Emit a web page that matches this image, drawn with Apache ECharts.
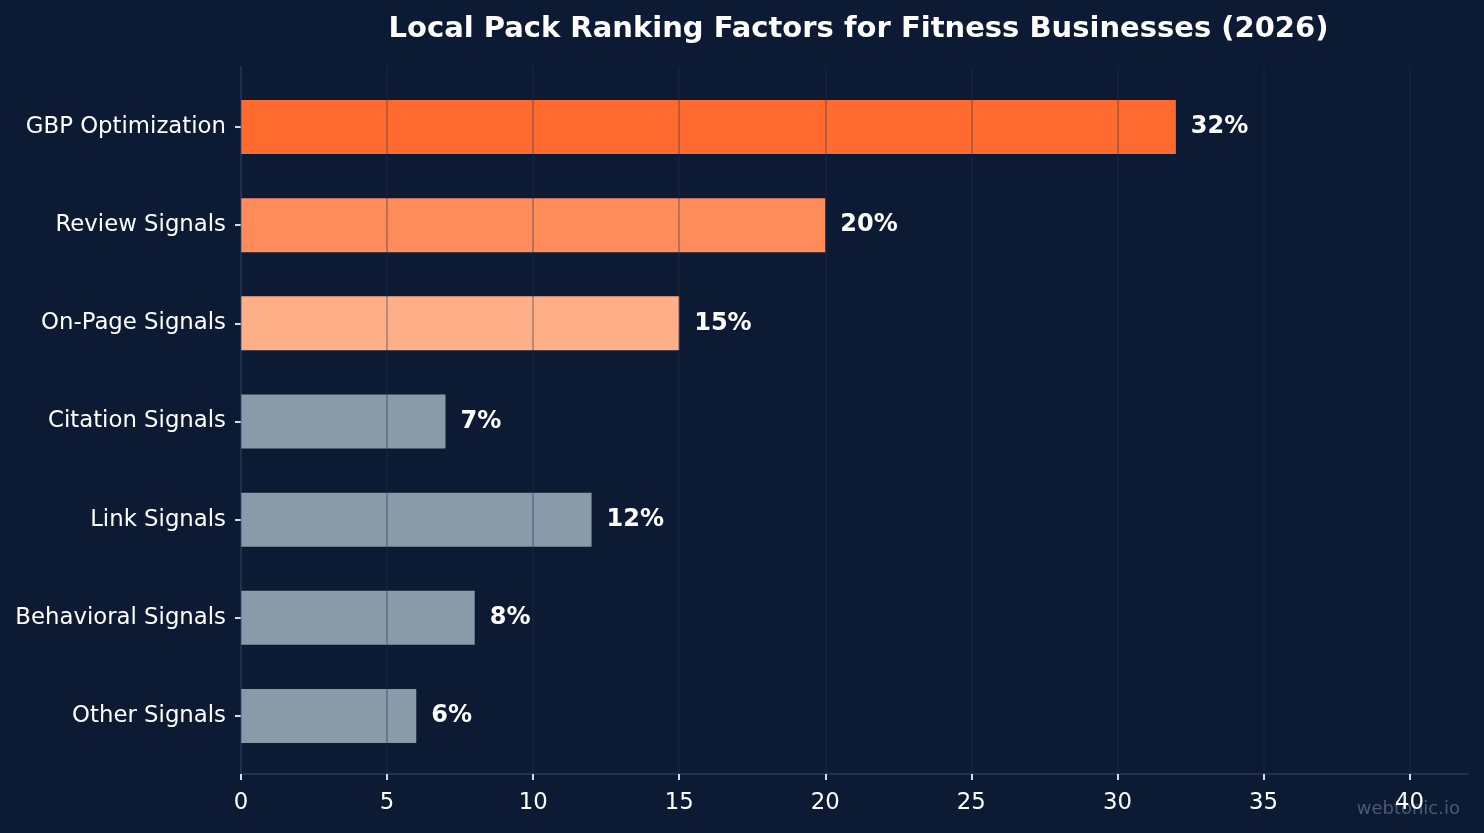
<!DOCTYPE html>
<html>
<head>
<meta charset="utf-8">
<script src="https://cdn.jsdelivr.net/npm/echarts@6/dist/echarts.min.js"></script>
<style>
html,body{margin:0;padding:0;background:#0c1b33;}
#c{width:1484px;height:833px;}
</style>
</head>
<body>
<div id="c"></div>
<script>
const categories = ["GBP Optimization","Review Signals","On-Page Signals","Citation Signals","Link Signals","Behavioral Signals","Other Signals"];
const values = [32, 20, 15, 7, 12, 8, 6];
const barColors = ["#ff6b2f","#ff8c5a","#ffaf87","#8a9aa9","#8a9aa9","#8a9aa9","#8a9aa9"];
const xTicks = [0,5,10,15,20,25,30,35,40];

const font = "DejaVu Sans";
const chart = echarts.init(document.getElementById('c'), null, {renderer:'canvas'});
chart.setOption({
  backgroundColor: '#0c1b33',
  animation: false,
  title: {
    text: 'Local Pack Ranking Factors for Fitness Businesses (2026)',
    left: 853.5, top: 10, textAlign: 'center',
    textStyle: {color:'#ffffff', fontFamily: font, fontWeight:'bold', fontSize: 29}
  },
  grid: [
    {left: 241, right: 16, top: 67, bottom: 59},
    {left: 241, right: 16, top: 78, bottom: 68}
  ],
  xAxis: [
    {gridIndex:0, type:'value', min:0, max:42, interval:5, z:3,
     axisLine:{show:true, lineStyle:{color:'#1e3150', width:2}},
     axisTick:{show:true, length:6, customValues: xTicks, lineStyle:{color:'#d8dde5', width:2}},
     axisLabel:{color:'#ffffff', fontFamily:font, fontSize:22.8, margin:18, customValues: xTicks},
     splitLine:{show:true, lineStyle:{color:'rgba(30,48,80,0.3)', width:2}}
    },
    {gridIndex:1, type:'value', min:0, max:42, show:false}
  ],
  yAxis: [
    {gridIndex:0, type:'value', min:0, max:1, show:true,
     axisLine:{show:true, lineStyle:{color:'#1e3150', width:2}},
     axisTick:{show:false}, axisLabel:{show:false}, splitLine:{show:false}},
    {gridIndex:1, type:'category', data: categories, inverse:true,
     axisLine:{show:false},
     axisTick:{show:true, alignWithLabel:true, length:6, lineStyle:{color:'#d8dde5', width:2}},
     axisLabel:{color:'#ffffff', fontFamily:font, fontSize:22.8, margin:15, padding:[4,0,0,0]},
     splitLine:{show:false}}
  ],
  series: [{
    type:'bar', xAxisIndex:1, yAxisIndex:1, barWidth:54, z:2,
    data: values.map((v,i)=>({value:v, itemStyle:{color:barColors[i]}})),
    label:{show:true, position:'right', distance:15, color:'#ffffff', padding:[3,0,0,0],
      fontFamily:font, fontWeight:'bold', fontSize:24, formatter: p => p.value + '%'}
  }],
  graphic: [{
    type:'text', right: 24, top: 800,
    style:{text:'webtonic.io', fill:'#4a5a75', font:'18px "DejaVu Sans"'}
  }]
});
</script>
</body>
</html>
